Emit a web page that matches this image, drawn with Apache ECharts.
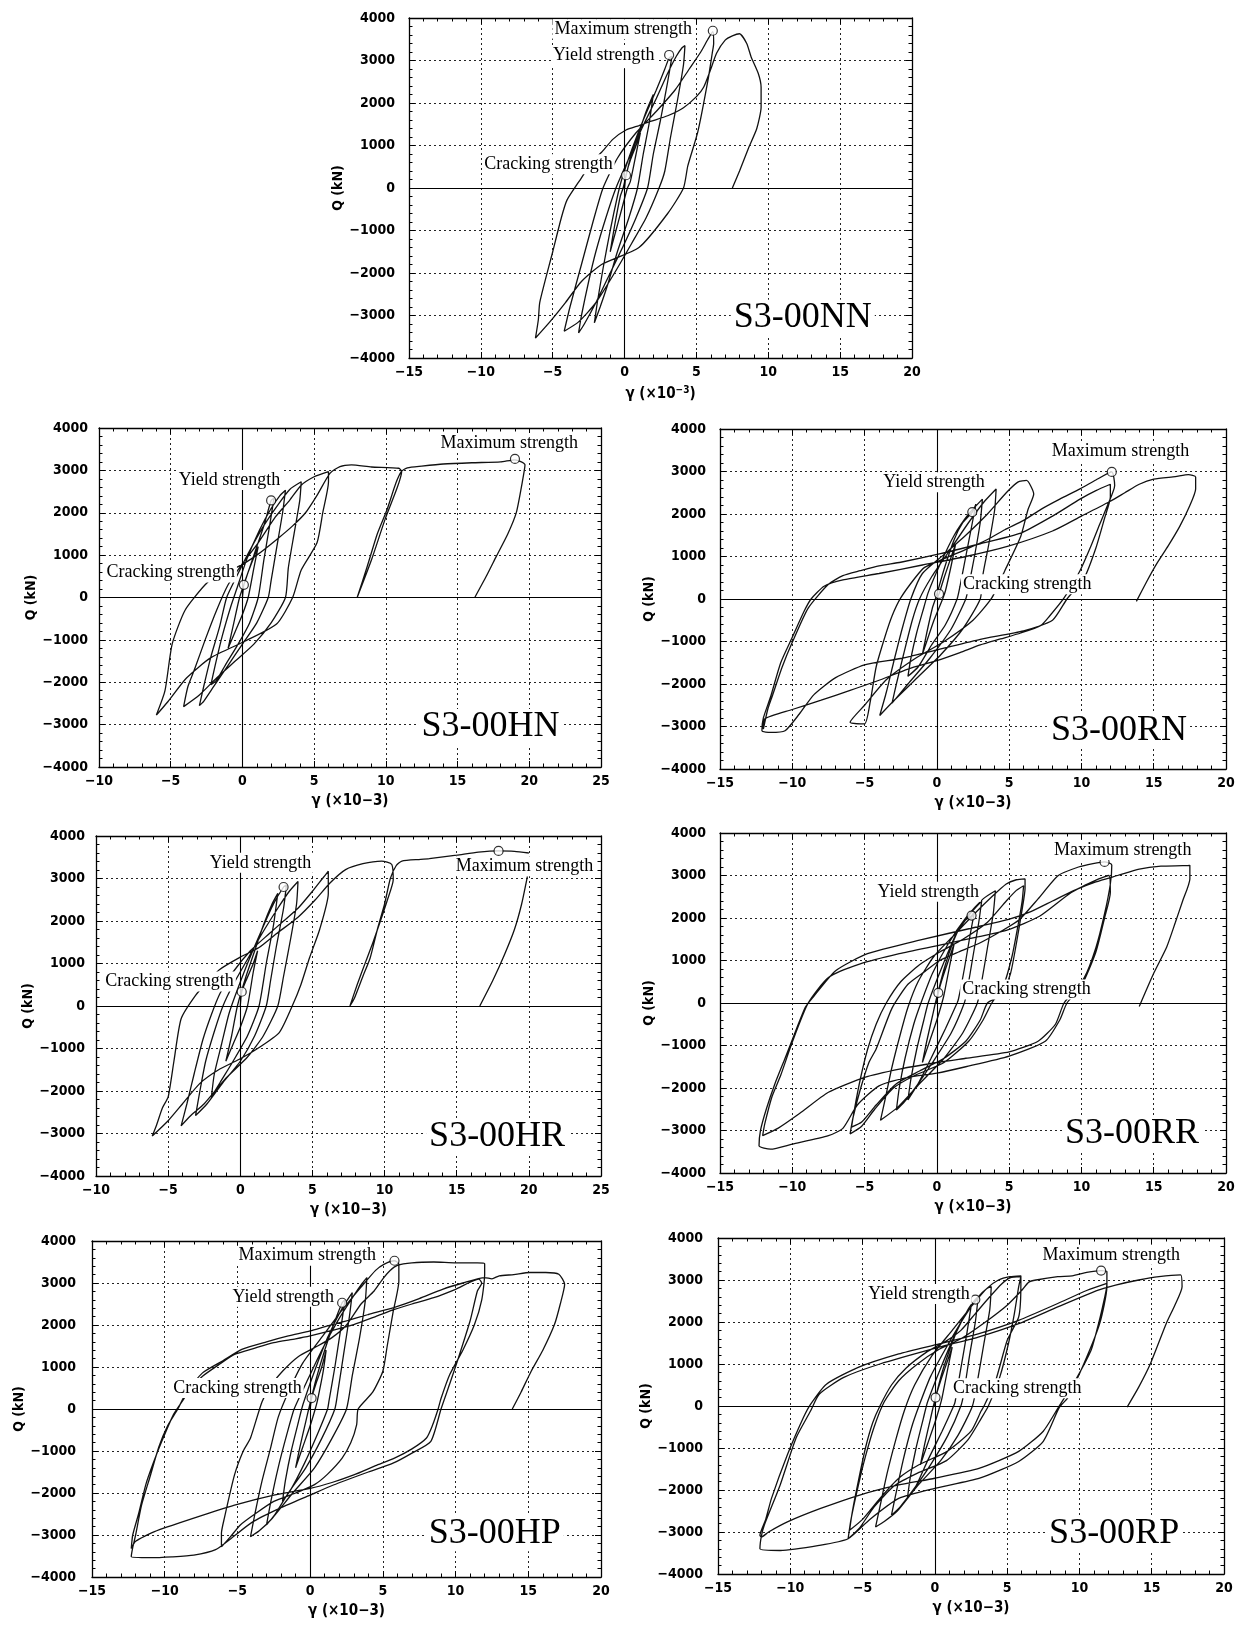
<!DOCTYPE html>
<html><head><meta charset="utf-8">
<script src="https://cdn.jsdelivr.net/npm/echarts@6/dist/echarts.min.js"></script>
<style>html,body{margin:0;padding:0;background:#fff}#c{width:1248px;height:1629px}</style>
</head><body><div id="c"></div>
<script>
// ---------------- DATA ----------------
const xTicksA = [-15, -10, -5, 0, 5, 10, 15, 20];
const xTicksB = [-10, -5, 0, 5, 10, 15, 20, 25];
const yTicks = [-4000, -3000, -2000, -1000, 0, 1000, 2000, 3000, 4000];
const specimenNames = ['S3-00NN', 'S3-00HN', 'S3-00RN', 'S3-00HR', 'S3-00RR', 'S3-00HP', 'S3-00RP'];
const strengthLabels = ['Maximum strength', 'Yield strength', 'Cracking strength'];

const pathNN = [[0,0],[0.1,300],[0.4,650],[0.8,1000],[1.1,1300],[0.8,800],[0.4,150],[0.2,0],[-0.2,-500],[-0.6,-1000],[-1.0,-1500],[-0.7,-900],[-0.3,-200],[-0.1,0],[0.4,700],[1.0,1300],[1.5,1800],[2.0,2200],[1.7,1500],[1.3,800],[0.9,0],[0.3,-700],[-0.5,-1500],[-1.2,-2300],[-1.7,-2800],[-2.1,-3170],[-1.9,-2700],[-1.5,-1900],[-1.0,-1000],[-0.5,-200],[-0.2,200],[0.5,900],[1.3,1600],[2.2,2300],[2.8,2800],[3.1,3060],[3.3,3100],[3.0,2500],[2.5,1600],[2.0,800],[1.6,0],[0.8,-700],[0,-1300],[-1.0,-2000],[-2.0,-2700],[-2.8,-3200],[-3.2,-3410],[-3.0,-3000],[-2.5,-2200],[-2.0,-1500],[-1.3,-700],[-0.6,0],[0.3,700],[1.2,1400],[2.2,2100],[3.0,2700],[3.6,3100],[4.0,3300],[4.2,3350],[4.1,2900],[3.7,2100],[3.2,1200],[2.8,400],[2.4,0],[1.5,-700],[0.5,-1300],[-0.7,-2000],[-2.0,-2700],[-3.2,-3150],[-4.2,-3370],[-3.8,-2800],[-3.0,-1800],[-2.2,-800],[-1.5,0],[-0.5,700],[0.8,1300],[2.2,1800],[3.5,2300],[4.5,2800],[5.3,3200],[5.8,3500],[6.14,3680],[6.2,3400],[6.1,3170],[5.8,2530],[5.1,1325],[4.4,520],[4.1,0],[3.0,-600],[1.0,-1400],[-1.6,-1800],[-3.0,-2200],[-4.1,-2690],[-5.2,-3150],[-6.2,-3530],[-6.0,-3100],[-5.9,-2690],[-5.0,-1500],[-4.4,-700],[-4.0,-280],[-3.0,240],[-2.3,600],[-1.6,840],[-0.8,1150],[0.1,1365],[1.0,1470],[1.8,1566],[3.0,1700],[4.1,1890],[5.0,2150],[5.5,2370],[6.0,2800],[6.4,3170],[7.0,3480],[7.5,3580],[8.0,3630],[8.5,3400],[8.8,3090],[9.3,2700],[9.5,2370],[9.5,1900],[9.2,1400],[8.6,920],[8.0,400],[7.5,0]];
const strengthNN = [[6.14,3700],[3.1,3130],[0.1,300]];

const pathHN = [[0,0],[0.1,300],[0.4,600],[0.8,950],[1.1,1200],[0.8,700],[0.4,0],[0,-400],[-0.5,-800],[-1.0,-1200],[-0.6,-600],[-0.2,0],[0.3,500],[0.9,1100],[1.5,1700],[2.0,2290],[2.2,2350],[1.9,1700],[1.5,900],[1.1,0],[0.5,-600],[-0.3,-1100],[-1.2,-1600],[-1.8,-1950],[-2.2,-2060],[-1.9,-1600],[-1.4,-900],[-0.8,-200],[-0.4,200],[0.3,900],[1.2,1600],[2.0,2100],[2.6,2400],[3.0,2530],[2.8,2000],[2.4,1200],[2.0,400],[1.8,0],[1.0,-600],[0,-1100],[-1.0,-1600],[-2.0,-2100],[-2.7,-2450],[-3.0,-2550],[-2.7,-2100],[-2.2,-1400],[-1.6,-700],[-1.1,0],[-0.4,500],[0.5,1100],[1.5,1700],[2.5,2200],[3.3,2550],[4.1,2730],[4.0,2300],[3.6,1500],[3.2,700],[3.0,0],[2.0,-600],[0.8,-1100],[-0.5,-1500],[-1.8,-1900],[-3.0,-2300],[-4.1,-2575],[-3.8,-2100],[-3.3,-1660],[-2.6,-1000],[-1.8,-300],[-1.0,300],[0,800],[1.1,1290],[2.3,1900],[3.3,2300],[4.1,2650],[5.0,2850],[6.0,2970],[6.0,2730],[5.6,2000],[5.2,1290],[4.1,650],[3.5,0],[2.4,-620],[0.25,-1020],[-2.2,-1420],[-3.9,-1900],[-5.2,-2460],[-6.0,-2775],[-5.4,-2200],[-4.9,-1100],[-4.0,-300],[-2.6,300],[-1.5,600],[-0.3,730],[1.0,1000],[2.5,1400],[3.5,1690],[4.4,2000],[5.2,2410],[6.1,2930],[6.8,3090],[7.6,3130],[9.0,3080],[10.9,3050],[11.1,2970],[10.8,2600],[9.95,1850],[9.0,890],[8.0,0],[8.7,730],[9.4,1500],[10.1,2090],[10.7,2700],[11.1,2980],[11.5,3060],[12.5,3100],[14,3150],[16,3180],[18,3200],[19.0,3250],[19.7,3130],[19.5,2700],[19.1,2010],[18.5,1500],[17.7,970],[17.0,500],[16.2,0]];
const strengthHN = [[19.0,3270],[2.0,2290],[0.1,300]];

const pathRN = [[0,0],[0.15,120],[0.5,500],[1.0,1000],[1.3,1300],[1.0,800],[0.6,200],[0.4,0],[-0.2,-500],[-0.7,-1000],[-1.0,-1300],[-0.7,-800],[-0.3,-200],[-0.1,0],[0.5,700],[1.2,1400],[1.8,1800],[2.45,2045],[2.7,2230],[2.4,1700],[2.0,1000],[1.6,300],[1.4,0],[0.6,-600],[-0.4,-1100],[-1.3,-1600],[-2.0,-1820],[-1.8,-1400],[-1.4,-800],[-0.9,-200],[-0.6,150],[0.2,800],[1.2,1500],[2.2,2000],[3.15,2350],[3.0,1800],[2.6,1000],[2.2,300],[2.0,0],[1.0,-700],[-0.5,-1400],[-2.0,-2000],[-3.1,-2450],[-2.8,-2000],[-2.3,-1300],[-1.7,-500],[-1.2,0],[-0.4,500],[0.8,1100],[2.2,1800],[3.3,2300],[4.1,2590],[4.0,2100],[3.6,1300],[3.2,600],[3.0,0],[1.8,-700],[0.3,-1300],[-1.5,-1900],[-3.0,-2400],[-3.95,-2740],[-3.5,-2200],[-3.0,-1500],[-2.4,-700],[-1.8,0],[-1.0,600],[0.5,1050],[2.0,1500],[3.5,2000],[4.8,2500],[5.6,2750],[6.2,2790],[6.7,2470],[6.3,2100],[5.8,1470],[4.7,665],[3.8,25],[2.5,-500],[0.5,-1000],[-1.5,-1400],[-3.5,-1900],[-5.0,-2500],[-6.0,-2900],[-5.0,-2940],[-4.6,-2400],[-4.2,-1600],[-3.6,-900],[-3.1,-400],[-2.5,25],[-1.5,500],[-0.85,745],[0.5,950],[1.9,1150],[3.5,1400],[4.7,1630],[6.0,1850],[7.2,2110],[8.5,2350],[9.9,2590],[11.0,2800],[12.1,2990],[12.3,2670],[11.8,2200],[11.3,1790],[10.6,1200],[9.9,665],[8.8,25],[7.8,-400],[7.2,-620],[5.8,-800],[4.4,-940],[3.0,-1080],[1.6,-1260],[0,-1450],[-2.0,-1650],[-3.9,-1900],[-6.0,-2150],[-8.0,-2380],[-10.0,-2600],[-11.9,-2820],[-12.0,-3060],[-11.7,-2600],[-11.4,-2300],[-10.7,-1600],[-10.0,-1020],[-8.9,-215],[-7.5,345],[-6.5,550],[-5.3,665],[-4.0,780],[-2.5,865],[0.25,1066],[3.0,1300],[5.8,1550],[8.0,1950],[9.9,2350],[11.0,2550],[12.0,2700],[12.0,2400],[11.6,1900],[11.0,1200],[10.2,500],[9.0,0],[8.0,-500],[6.0,-750],[3.0,-950],[0,-1200],[-2.5,-1400],[-5.0,-1550],[-7.0,-1850],[-8.5,-2250],[-9.5,-2700],[-10.5,-3100],[-11.5,-3140],[-12.1,-3100],[-12.0,-2800],[-11.5,-2300],[-10.8,-1500],[-10.0,-900],[-9.2,-300],[-8.7,0],[-7.8,300],[-6.5,450],[-4.0,600],[-1.0,800],[2.0,1000],[5.0,1250],[8.0,1600],[10.0,1950],[12.0,2300],[13.0,2500],[14.0,2700],[15.0,2820],[16.5,2880],[17.4,2925],[17.9,2870],[17.9,2590],[17.5,2200],[16.8,1710],[16.0,1250],[15.2,825],[14.5,400],[13.8,-55]];
const strengthRN = [[12.1,2990],[2.45,2045],[0.15,120]];

const pathHR = [[0,0],[0.1,335],[0.4,600],[0.9,1000],[1.2,1300],[0.9,800],[0.5,0],[0,-500],[-0.5,-900],[-1.0,-1300],[-0.6,-700],[-0.2,0],[0.4,700],[1.0,1300],[1.6,1900],[2.2,2400],[2.6,2650],[2.3,1900],[1.8,1000],[1.3,0],[0.5,-700],[-0.5,-1300],[-1.4,-1800],[-2.0,-2140],[-1.8,-1600],[-1.3,-900],[-0.8,-200],[-0.4,200],[0.5,1000],[1.5,1800],[2.3,2400],[3.0,2800],[3.2,2850],[3.0,2300],[2.5,1400],[2.1,600],[1.8,0],[1.0,-700],[0,-1300],[-1.2,-1800],[-2.3,-2300],[-3.1,-2580],[-2.8,-2000],[-2.4,-1300],[-1.8,-600],[-1.2,0],[-0.5,500],[0.5,1100],[1.5,1700],[2.6,2300],[3.4,2700],[4.0,2930],[3.9,2400],[3.5,1600],[3.0,700],[2.6,0],[1.6,-700],[0.5,-1200],[-1.0,-1700],[-2.5,-2300],[-3.5,-2600],[-4.1,-2820],[-3.7,-2300],[-3.2,-1600],[-2.6,-800],[-2.0,-200],[-1.4,300],[-0.5,800],[0.7,1300],[2.0,1700],[3.0,2000],[4.0,2300],[5.0,2700],[5.7,3000],[6.1,3170],[6.1,2650],[5.5,1800],[4.8,1135],[4.2,500],[3.6,0],[2.7,-625],[1.2,-1000],[-0.1,-1260],[-1.5,-1500],[-2.8,-1820],[-4.0,-2300],[-5.0,-2700],[-6.1,-3060],[-5.8,-2800],[-5.4,-2400],[-5.0,-2140],[-4.6,-1300],[-4.1,-300],[-3.1,250],[-2.2,600],[-1.45,855],[0,1150],[1.3,1375],[2.5,1700],[4.0,2090],[5.2,2500],[6.2,2890],[7.3,3210],[8.5,3350],[9.8,3410],[10.5,3330],[10.6,2970],[10.2,2500],[9.8,2090],[9.2,1500],[8.7,1050],[8.1,500],[7.6,0],[7.9,175],[8.5,700],[9.0,1130],[9.5,1800],[10.0,2400],[10.4,3000],[10.8,3300],[11.2,3410],[12.5,3450],[13.1,3470],[15.0,3550],[16.5,3620],[17.9,3650],[19.0,3640],[20.0,3600]];
const pathHRtail = [[19.9,3050],[19.5,2400],[19.0,1800],[18.3,1200],[17.5,600],[16.6,0]];
const strengthHR = [[17.9,3650],[3.0,2800],[0.1,335]];

const pathRR = [[0,0],[0.1,240],[0.4,600],[0.8,1000],[1.2,1400],[0.9,900],[0.5,200],[0.35,0],[0,-400],[-0.5,-900],[-1.0,-1400],[-0.7,-900],[-0.3,-300],[-0.1,0],[0.5,800],[1.2,1500],[1.8,1900],[2.4,2056],[2.6,2150],[2.3,1600],[1.9,800],[1.5,100],[1.4,0],[0.6,-600],[-0.4,-1300],[-1.3,-1900],[-2.0,-2280],[-1.8,-1800],[-1.4,-1100],[-0.9,-400],[-0.6,0],[0.3,800],[1.3,1600],[2.3,2100],[3.1,2400],[2.9,1900],[2.5,1100],[2.1,300],[1.9,0],[1.0,-700],[-0.3,-1400],[-1.5,-2000],[-2.3,-2350],[-2.8,-2520],[-2.6,-2000],[-2.2,-1300],[-1.6,-500],[-1.1,0],[-0.3,700],[0.8,1400],[2.0,2000],[3.2,2450],[4.05,2640],[3.9,2100],[3.5,1300],[3.1,500],[2.8,0],[1.8,-700],[0.5,-1300],[-1.2,-1900],[-2.7,-2450],[-3.9,-2760],[-3.6,-2300],[-3.1,-1500],[-2.5,-700],[-2.0,-100],[-1.3,500],[-0.2,1100],[1.2,1600],[2.6,2100],[3.8,2500],[4.8,2800],[5.5,2900],[6.1,2920],[6.1,2700],[5.9,2200],[5.5,1400],[5.1,700],[4.5,200],[3.5,0],[3.0,-400],[2.0,-900],[0.5,-1300],[-1.2,-1600],[-2.8,-1900],[-4.2,-2400],[-5.2,-2800],[-5.9,-2920],[-5.7,-2500],[-5.3,-1800],[-4.8,-1100],[-4.2,-500],[-3.5,0],[-2.5,500],[-1.2,900],[0.2,1200],[1.8,1500],[3.5,1900],[4.8,2400],[5.5,2650],[6.0,2760],[5.9,2400],[5.6,1800],[5.2,1100],[4.6,400],[3.8,0],[3.2,-400],[2.2,-900],[0.5,-1400],[-1.5,-1700],[-3.0,-2000],[-4.3,-2500],[-5.2,-2900],[-6.0,-3080],[-5.8,-2700],[-5.3,-2040],[-4.7,-1400],[-4.2,-1080],[-3.1,-120],[-2.0,440],[-0.8,750],[0.2,1000],[1.5,1200],[2.9,1400],[4.5,1700],[5.7,1960],[7.0,2450],[8.4,3000],[9.8,3200],[10.8,3280],[11.6,3320],[12.1,3250],[12.0,2800],[11.6,2100],[11.0,1300],[10.2,600],[8.8,0],[8.2,-500],[7.0,-900],[5.0,-1150],[2.0,-1300],[0,-1400],[-2.5,-1550],[-5.0,-1750],[-7.5,-2100],[-9.5,-2600],[-11.0,-2950],[-12.05,-3120],[-11.9,-2840],[-11.4,-2200],[-10.8,-1700],[-10.0,-920],[-8.9,0],[-7.5,600],[-5.3,920],[-2.6,1160],[0.2,1360],[2.9,1560],[4.9,1720],[7.1,2040],[9.3,2600],[11.2,2920],[11.9,3000],[12.0,2600],[11.6,2000],[11.0,1200],[10.0,400],[9.0,0],[8.5,-400],[7.5,-900],[5.0,-1250],[2.0,-1500],[0,-1650],[-2.0,-1750],[-4.0,-1950],[-5.5,-2400],[-6.5,-2950],[-7.5,-3120],[-10.0,-3320],[-11.5,-3440],[-12.3,-3360],[-12.2,-3000],[-11.8,-2500],[-11.2,-1900],[-10.5,-1300],[-9.7,-600],[-9.1,-100],[-8.6,120],[-7.0,760],[-4.8,1160],[-1.2,1480],[2.9,1800],[4.9,1960],[6.5,2150],[8.0,2400],[9.5,2650],[11.0,2850],[12.5,3000],[14.0,3150],[15.5,3220],[17.0,3230],[17.5,3240],[17.5,2920],[17.0,2400],[16.5,1900],[15.9,1320],[15.0,700],[14.0,-80]];
const strengthRR = [[11.6,3320],[2.4,2056],[0.1,240]];

const pathHP = [[0,0],[0.1,260],[0.4,600],[0.8,1000],[1.1,1400],[0.9,900],[0.5,200],[0.35,0],[0,-400],[-0.5,-900],[-1.0,-1400],[-0.7,-900],[-0.3,-300],[-0.1,0],[0.4,700],[1.0,1400],[1.6,2000],[2.2,2530],[2.4,2600],[2.1,1900],[1.7,1000],[1.3,200],[1.2,0],[0.5,-600],[-0.4,-1300],[-1.3,-1900],[-1.9,-2200],[-1.7,-1700],[-1.3,-1000],[-0.8,-300],[-0.5,100],[0.3,900],[1.2,1700],[2.2,2400],[2.9,2770],[2.7,2200],[2.3,1300],[1.9,400],[1.7,0],[0.8,-700],[-0.3,-1400],[-1.5,-2000],[-2.4,-2500],[-3.0,-2760],[-2.7,-2200],[-2.2,-1400],[-1.6,-600],[-1.1,0],[-0.3,600],[0.8,1400],[1.9,2100],[3.0,2700],[3.6,3000],[3.9,3130],[3.8,2600],[3.4,1700],[2.9,800],[2.5,0],[1.5,-700],[0.3,-1400],[-1.2,-2000],[-2.6,-2600],[-3.5,-2900],[-4.1,-3040],[-3.8,-2500],[-3.3,-1700],[-2.7,-900],[-2.2,-200],[-1.5,400],[-0.5,1100],[1.0,1800],[2.3,2400],[3.5,2900],[4.5,3300],[5.1,3450],[5.8,3530],[6.1,3450],[6.1,3050],[5.7,2300],[5.3,1500],[5.0,900],[4.3,400],[3.3,0],[3.2,-370],[2.8,-800],[2.2,-1170],[1.2,-1550],[0.3,-1800],[-1.0,-2000],[-2.5,-2200],[-3.8,-2500],[-4.8,-2760],[-5.5,-3050],[-6.1,-3280],[-6.1,-2960],[-5.9,-2600],[-5.2,-1570],[-4.6,-1000],[-4.1,-690],[-3.3,180],[-2.6,600],[-1.9,900],[-0.8,1250],[0.3,1460],[1.5,1700],[2.5,2000],[3.5,2500],[4.4,2810],[5.0,3100],[5.5,3300],[6.0,3420],[7.0,3480],[8.5,3500],[10.0,3480],[11.5,3480],[12.0,3460],[12.0,3210],[11.8,2600],[11.3,2010],[10.5,1400],[9.6,820],[9.0,250],[8.8,0],[8.4,-400],[8.0,-690],[7.0,-950],[5.8,-1170],[4.5,-1350],[3.0,-1570],[1.5,-1750],[0,-1890],[-2.5,-2050],[-5.2,-2290],[-8.0,-2600],[-10.7,-2920],[-12.0,-3150],[-12.3,-3320],[-12.2,-3000],[-11.8,-2500],[-11.3,-1800],[-10.8,-1300],[-10.2,-770],[-9.4,-135],[-8.8,180],[-8.2,500],[-7.4,780],[-6.3,1050],[-5.2,1300],[-3.8,1450],[-2.5,1580],[-1.0,1670],[0,1740],[1.5,1870],[3.0,2010],[4.5,2200],[5.8,2370],[7.0,2500],[8.5,2650],[10.0,2850],[11.6,3090],[11.8,3000],[11.5,2810],[11.0,2100],[10.2,1220],[9.6,600],[9.0,0],[8.3,-770],[7.0,-1050],[5.7,-1290],[4.0,-1500],[1.6,-1810],[0,-2050],[-2.0,-2350],[-4.0,-2700],[-5.5,-3100],[-6.5,-3350],[-8.0,-3480],[-9.5,-3520],[-11.0,-3540],[-12.3,-3520],[-12.2,-3300],[-12.0,-3000],[-11.6,-2300],[-11.0,-1600],[-10.4,-900],[-9.8,-400],[-9.1,0],[-8.5,400],[-7.4,860],[-6.0,1150],[-4.7,1420],[-3.0,1600],[-1.5,1740],[0,1860],[1.2,1980],[2.5,2100],[4.0,2250],[5.8,2420],[7.5,2630],[9.1,2850],[10.5,3000],[12.0,3130],[12.5,3100],[13.0,3170],[14.0,3200],[15.1,3250],[16.2,3250],[17.1,3210],[17.5,2970],[17.2,2500],[16.8,2010],[16.0,1400],[15.2,900],[14.5,400],[13.9,0]];
const strengthHP = [[5.8,3530],[2.2,2530],[0.1,260]];

const pathRP = [[0,0],[0.05,200],[0.4,600],[0.8,1000],[1.2,1400],[0.9,900],[0.5,200],[0.35,0],[0,-400],[-0.5,-900],[-1.0,-1400],[-0.7,-900],[-0.3,-300],[-0.1,0],[0.5,800],[1.2,1500],[1.8,2000],[2.5,2360],[2.2,1700],[1.8,900],[1.4,100],[1.3,0],[0.5,-600],[-0.5,-1300],[-1.3,-1900],[-1.9,-2200],[-1.7,-1700],[-1.3,-1000],[-0.8,-300],[-0.5,100],[0.4,900],[1.4,1700],[2.3,2300],[2.8,2535],[3.0,2600],[2.8,2000],[2.4,1200],[2.0,300],[1.8,0],[0.9,-700],[-0.3,-1400],[-1.5,-2000],[-2.4,-2400],[-3.0,-2600],[-2.7,-2100],[-2.2,-1300],[-1.6,-500],[-1.1,0],[-0.3,700],[0.8,1400],[2.0,2100],[3.0,2600],[3.6,2800],[3.9,2840],[3.8,2300],[3.4,1500],[3.0,700],[2.6,0],[1.6,-700],[0.4,-1300],[-1.2,-1900],[-2.6,-2500],[-3.5,-2750],[-4.1,-2880],[-3.8,-2400],[-3.3,-1600],[-2.7,-800],[-2.1,-100],[-1.4,500],[-0.2,1200],[1.2,1800],[2.6,2400],[3.6,2800],[4.4,3000],[5.2,3080],[5.95,3100],[5.95,2900],[5.8,2120],[5.0,1560],[4.2,600],[3.4,0],[3.2,-120],[2.5,-600],[0.85,-1080],[-1.1,-1400],[-2.5,-1720],[-3.8,-2200],[-5.0,-2700],[-5.9,-2960],[-5.7,-2500],[-5.3,-1800],[-4.8,-1000],[-4.3,-400],[-3.8,0],[-3.0,500],[-2.0,900],[-0.5,1300],[0.8,1550],[1.8,1800],[2.8,2200],[3.8,2600],[4.6,2900],[5.2,3050],[5.95,3080],[5.8,2840],[5.5,2200],[5.1,1500],[4.5,700],[3.7,0],[3.2,-300],[2.3,-800],[0.8,-1300],[-1.2,-1600],[-2.8,-1900],[-4.2,-2400],[-5.2,-2900],[-6.0,-3160],[-5.8,-2700],[-5.3,-1900],[-4.8,-1200],[-4.2,-500],[-3.5,100],[-2.5,600],[-1.2,1000],[0.3,1350],[1.8,1600],[3.5,2000],[5.0,2400],[6.0,2750],[6.5,2950],[7.0,3000],[8.5,3080],[9.5,3100],[10.5,3180],[11.5,3225],[11.9,3200],[11.9,2900],[11.6,2360],[11.2,1800],[10.8,1320],[9.7,600],[8.6,0],[7.5,-600],[5.8,-1080],[3.1,-1480],[0,-1720],[-2.5,-1880],[-5.2,-2120],[-7.9,-2440],[-10.2,-2760],[-11.5,-3000],[-12.0,-3120],[-12.1,-3080],[-11.7,-2700],[-11.3,-2200],[-10.2,-1160],[-9.1,-280],[-8.6,40],[-7.5,520],[-5.3,920],[-2.5,1240],[0.3,1480],[3.0,1720],[5.8,2040],[8.5,2440],[10.5,2750],[11.9,2920],[11.9,2840],[11.4,1960],[10.3,1000],[9.2,200],[8.6,-40],[7.5,-840],[5.8,-1320],[3.1,-1720],[0,-1960],[-2.5,-2200],[-4.5,-2700],[-6.0,-3160],[-8.0,-3320],[-10.7,-3440],[-12.1,-3400],[-12.0,-3100],[-11.8,-2840],[-10.7,-1880],[-9.6,-760],[-8.6,-120],[-8.0,280],[-6.3,680],[-3.8,1000],[0.3,1400],[3.0,1640],[5.8,1960],[8.5,2360],[11.3,2760],[12.5,2880],[14.1,3000],[15.5,3080],[17.0,3120],[17.1,2840],[16.6,2400],[16.0,1960],[14.9,1000],[14.1,450],[13.3,-25]];
const strengthRP = [[11.5,3225],[2.8,2535],[0.05,200]];

// ---------------- LAYOUT / STYLE ----------------
const panels = [
  {paths:[pathNN], pts:strengthNN, xt:xTicksA, left:409, top:18, width:503, height:340, yGap:60, yMargin:14, vTop:2800, sup:true,
   ann:[[-0.1,3735],[-1.45,3130],[-5.3,560]], nm:[12.4,-3050]},
  {paths:[pathHN], pts:strengthHN, xt:xTicksB, left:99, top:428, width:502, height:339, yGap:42, yMargin:11, vTop:4000,
   ann:[[18.6,3645],[-0.9,2770],[-5.0,590]], nm:[17.3,-3055]},
  {paths:[pathRN], pts:strengthRN, xt:xTicksA, left:720, top:429, width:506, height:340, yGap:58, yMargin:14, vTop:4000,
   ann:[[12.7,3470],[-0.2,2750],[6.25,345]], nm:[12.6,-3100]},
  {paths:[pathHR, pathHRtail], pts:strengthHR, xt:xTicksB, left:96, top:836, width:505, height:340, yGap:42, yMargin:11, vTop:4000,
   ann:[[19.7,3290],[1.4,3370],[-4.9,575]], nm:[17.8,-3060]},
  {paths:[pathRR], pts:strengthRR, xt:xTicksA, left:720, top:833, width:506, height:340, yGap:58, yMargin:14, vTop:4000,
   ann:[[12.85,3600],[-0.6,2615],[6.2,320]], nm:[13.5,-3080]},
  {paths:[pathHP], pts:strengthHP, xt:xTicksA, left:92, top:1241, width:509, height:336, yGap:60, yMargin:16, vTop:4000,
   ann:[[-0.2,3650],[-1.85,2670],[-5.0,500]], nm:[12.7,-2960]},
  {paths:[pathRP], pts:strengthRP, xt:xTicksA, left:718, top:1238, width:506, height:336, yGap:58, yMargin:15, vTop:4000,
   ann:[[12.2,3600],[-1.1,2665],[5.7,425]], nm:[12.4,-3040]}
];

const tickFont = '"DejaVu Sans Condensed", "Liberation Sans Narrow", sans-serif';
const serifFont = '"Liberation Serif", "Times New Roman", serif';
const fmtNum = v => (v < 0 ? '\u2212' + Math.abs(v) : String(v));
const axisLine = {show:true, onZero:false, lineStyle:{color:'#000', width:1.3}};
const tickStyle = {show:true, inside:true, length:6, lineStyle:{color:'#000', width:1}};
const minorStyle = {show:true, splitNumber:5, length:3.5, lineStyle:{color:'#000', width:1}};
const gridDot = {show:true, lineStyle:{color:'#222', type:[2,3], width:1}};

const grids = [], xAxes = [], yAxes = [], series = [];
panels.forEach((p, i) => {
  grids.push({left:p.left, top:p.top, width:p.width, height:p.height, containLabel:false});
  const xmin = p.xt[0], xmax = p.xt[p.xt.length - 1];
  const ymin = yTicks[0], ymax = yTicks[yTicks.length - 1];
  xAxes.push({
    type:'value', gridIndex:i, min:xmin, max:xmax, interval:5, position:'bottom',
    axisLine, axisTick:tickStyle, minorTick:minorStyle, splitLine:gridDot,
    axisLabel:{margin:7, fontSize:14, fontWeight:'bold', fontFamily:tickFont, color:'#000', formatter:fmtNum},
    name: p.sup ? 'γ (×10{sup|−3})' : 'γ (×10−3)', nameLocation:'middle', nameGap:27,
    nameTextStyle:{fontSize:15, fontWeight:'bold', fontFamily:tickFont, color:'#000',
      rich:{sup:{fontSize:10, fontWeight:'bold', fontFamily:tickFont, color:'#000', padding:[0,0,9,0]}}}
  });
  xAxes.push({
    type:'value', gridIndex:i, min:xmin, max:xmax, interval:5, position:'top',
    axisLine, axisTick:tickStyle, minorTick:minorStyle, splitLine:{show:false}, axisLabel:{show:false}
  });
  yAxes.push({
    type:'value', gridIndex:i, min:ymin, max:ymax, interval:1000, position:'left',
    axisLine, axisTick:tickStyle, minorTick:minorStyle, splitLine:gridDot,
    axisLabel:{margin:p.yMargin, fontSize:14, fontWeight:'bold', fontFamily:tickFont, color:'#000', formatter:fmtNum},
    name:'Q (kN)', nameLocation:'middle', nameGap:p.yGap, nameRotate:90,
    nameTextStyle:{fontSize:14, fontWeight:'bold', fontFamily:tickFont, color:'#000'}
  });
  yAxes.push({
    type:'value', gridIndex:i, min:ymin, max:ymax, interval:1000, position:'right',
    axisLine, axisTick:tickStyle, minorTick:minorStyle, splitLine:{show:false}, axisLabel:{show:false}
  });
  p.paths.forEach((d, k) => {
    const s = {
      type:'line', xAxisIndex:2*i, yAxisIndex:2*i, data:d, showSymbol:false, symbol:'none',
      smooth:0.2, lineStyle:{color:'#111', width:1.3}, silent:true, animation:false, z:3
    };
    if (k === 0) {
      s.markLine = {silent:true, symbol:'none', animation:false, label:{show:false},
        lineStyle:{color:'#000', type:'solid', width:1.1},
        data:[{yAxis:0}, [{coord:[0, ymin]}, {coord:[0, p.vTop]}]]};
    }
    series.push(s);
  });
  series.push({
    type:'scatter', xAxisIndex:2*i, yAxisIndex:2*i, data:p.pts, symbol:'circle', symbolSize:9,
    itemStyle:{color:'#fff', borderColor:'#000', borderWidth:1.2}, silent:true, animation:false, z:6
  });
});

const chart = echarts.init(document.getElementById('c'), null, {renderer:'canvas'});
chart.setOption({animation:false, backgroundColor:'#fff', grid:grids, xAxis:xAxes, yAxis:yAxes, series});

const graphics = [];
panels.forEach((p, i) => {
  p.ann.forEach((a, j) => {
    const px = chart.convertToPixel({gridIndex:i}, a);
    graphics.push({type:'text', x:px[0], y:px[1], z:50,
      style:{text:strengthLabels[j], font:'18px ' + serifFont, fill:'#000',
        align:'center', verticalAlign:'middle', textAlign:'center', textVerticalAlign:'middle',
        backgroundColor:'#fff', padding:[1,2]}});
  });
  const q = chart.convertToPixel({gridIndex:i}, p.nm);
  graphics.push({type:'text', x:q[0], y:q[1], z:50,
    style:{text:specimenNames[i], font:'36px ' + serifFont, fill:'#000',
      align:'center', verticalAlign:'middle', textAlign:'center', textVerticalAlign:'middle',
      backgroundColor:'#fff', padding:[0,3]}});
});
chart.setOption({graphic:{elements:graphics}});
</script>
</body></html>
